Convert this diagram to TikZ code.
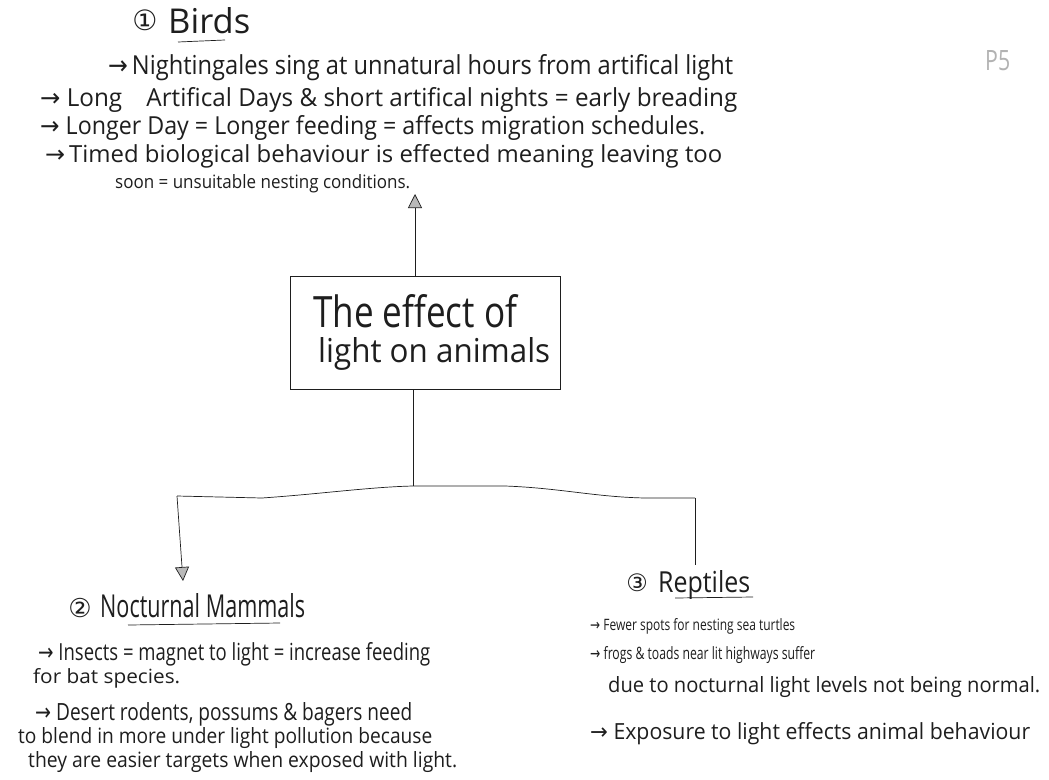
\documentclass[tikz,border=0pt]{standalone}
\usepackage{graphicx}
\usepackage{fontspec}
\setmainfont{Open Sans}
\newfontfamily\symfont{DejaVu Sans}
\usetikzlibrary{arrows.meta}
% scale a piece of text to a given width and height (in pt)
\newcommand{\fitto}[3]{\resizebox{#1pt}{#2pt}{#3}}
\newcommand{\arr}{{\symfont →}}
\definecolor{ink}{HTML}{1E1E1E}
\tikzset{
  note/.style={inner sep=0pt, anchor=base west, text=ink},
  pen/.style={draw=ink, line width=0.7pt},
  tip/.style={pen, -{Triangle[width=14pt,length=14pt,fill=gray!55]}},
  numcirc/.style={inner sep=0pt, text=ink},
}
\begin{document}
\begin{tikzpicture}[x=1pt,y=-1pt]
\useasboundingbox[fill=white] (0,0) rectangle (1049,779);

% ---- Birds ----
\node[numcirc] (n1) at (145,20) {\symfont\fontsize{28}{28}\selectfont ①};
\node[note] (bt) at (168,33) {\fitto{82}{26}{Birds}};
\draw[pen] (178,42) coordinate (bu1) -- (225,40) coordinate (bu2);
\node[note] (b1) at (108,74) {\fitto{625}{20}{\arr\,Nightingales sing at unnatural hours from artifical light}};
\node[note] (b2) at (40,106) {\fitto{697}{19}{\arr\ Long\quad Artifical Days \& short artifical nights = early breading}};
\node[note] (b3) at (40,134) {\fitto{665}{19}{\arr\ Longer Day = Longer feeding = affects migration schedules.}};
\node[note] (b4) at (45,162) {\fitto{677}{18}{\arr\,Timed biological behaviour is effected meaning leaving too}};
\node[note] (b5) at (115,188) {\fitto{295}{14}{soon = unsuitable nesting conditions.}};

% ---- central box ----
\node[pen, minimum width=270pt, minimum height=113pt, inner sep=0pt] (core) at (425,333) {};
\node[note] (t1) at (313,327) {\fitto{204}{33}{The effect of}};
\node[note] (t2) at (318,362) {\fitto{232}{25}{light on animals}};

% ---- connectors ----
\coordinate (birdtip) at (415,194);
\draw[tip] (core.north -| birdtip) -- (birdtip);

\coordinate (hub) at (413,486);
\coordinate (lft) at (177,496);
\coordinate (rgt) at (695,498);
\draw[pen] (core.south -| hub) -- (hub);
\draw[pen] (lft) -- (262,498) .. controls (320,494) and (370,487) .. (hub)
  -- (505,486) .. controls (560,488) and (595,497) .. (645,498) -- (rgt);
\coordinate (mamtip) at (183,581);
\draw[tip] (lft) -- (mamtip);
\coordinate (repend) at (695,565);
\draw[pen] (rgt) -- (repend);

% ---- Nocturnal Mammals ----
\node[numcirc] (n2) at (80,608) {\symfont\fontsize{26}{26}\selectfont ②};
\node[note] (mt) at (100,617) {\fitto{205}{24}{Nocturnal Mammals}};
\draw[pen] (128,625) coordinate (mu1) -- (280,623) coordinate (mu2);
\node[note] (m1) at (38,660) {\fitto{392}{18}{\arr\ Insects = magnet to light = increase feeding}};
\node[note] (m2) at (33,683) {\fitto{147}{15}{for bat species.}};
\node[note] (m3) at (35,720) {\fitto{377}{18}{\arr\ Desert rodents, possums \& bagers need}};
\node[note] (m4) at (18,743) {\fitto{414}{16}{to blend in more under light pollution because}};
\node[note] (m5) at (28,767) {\fitto{429}{16}{they are easier targets when exposed with light.}};

% ---- Reptiles ----
\node[numcirc] (n3) at (637,583) {\symfont\fontsize{24}{24}\selectfont ③};
\node[note] (rt) at (658,592) {\fitto{92}{22}{Reptiles}};
\draw[pen] (675,598) coordinate (ru1) -- (753,597) coordinate (ru2);
\node[note] (r1) at (590,630) {\fitto{205}{12}{\arr\ Fewer spots for nesting sea turtles}};
\node[note] (r2) at (590,659) {\fitto{225}{13}{\arr\ frogs \& toads near lit highways suffer}};
\node[note] (r3) at (608,692) {\fitto{432}{16}{due to nocturnal light levels not being normal.}};
\node[note] (r4) at (590,739) {\fitto{440}{17}{\arr\ Exposure to light effects animal behaviour}};

% ---- page mark ----
\node[note, text=gray!60] (pg) at (985,70) {\fitto{25}{20}{P5}};
\end{tikzpicture}
\end{document}
